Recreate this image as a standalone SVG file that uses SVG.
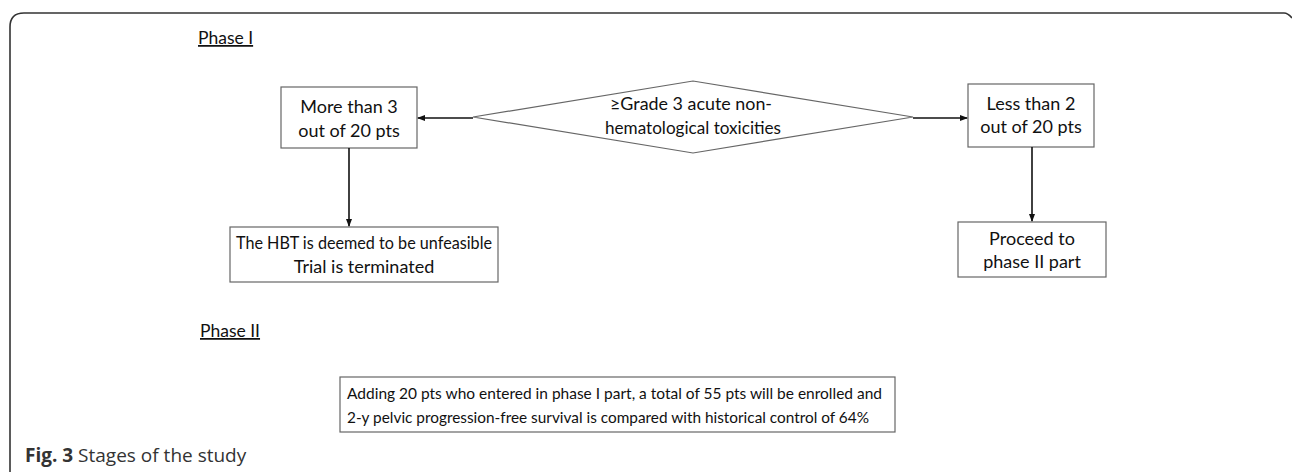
<svg xmlns="http://www.w3.org/2000/svg" width="1292" height="472" viewBox="0 0 1292 472">
<style>
.box{fill:#fff;stroke:#666;stroke-width:1.2}
.t{font-family:Lato,"Open Sans",sans-serif;font-size:18px;fill:#111;text-anchor:middle}
.h{font-family:Lato,"Open Sans",sans-serif;font-size:17.5px;fill:#111;text-decoration:underline}
.s{font-family:Lato,"Open Sans",sans-serif;font-size:16px;fill:#111}
.c{stroke:#111;stroke-width:1.6;fill:none;marker-end:url(#a)}
</style>
<defs>
<marker id="a" markerWidth="8" markerHeight="8" refX="7" refY="4" orient="auto" markerUnits="userSpaceOnUse">
<path d="M0,1 L8,4 L0,7 Z" fill="#111"/>
</marker>
</defs>
<rect width="1292" height="472" fill="#fff"/>
<path d="M10,472 V27 Q10,13 24,13 H1284 Q1288,13 1292,18" fill="none" stroke="#333" stroke-width="1.6"/>
<text class="h" x="198" y="44">Phase I</text>
<text class="h" x="200" y="337">Phase II</text>
<g id="decision">
<polygon class="box" points="473,117 693,81 913,117 693,153"/>
<text class="t" x="691" y="110" textLength="162" lengthAdjust="spacingAndGlyphs">≥Grade 3 acute non-</text>
<text class="t" x="693" y="134" textLength="176" lengthAdjust="spacingAndGlyphs">hematological toxicities</text>
</g>
<g id="more">
<rect class="box" x="281" y="87" width="136" height="61"/>
<text class="t" x="349" y="113">More than 3</text>
<text class="t" x="349" y="137">out of 20 pts</text>
</g>
<g id="less">
<rect class="box" x="968" y="84" width="126" height="63"/>
<text class="t" x="1031" y="110">Less than 2</text>
<text class="t" x="1031" y="133">out of 20 pts</text>
</g>
<g id="unfeasible">
<rect class="box" x="230" y="227" width="268" height="55"/>
<text class="t" x="364" y="249" textLength="256" lengthAdjust="spacingAndGlyphs">The HBT is deemed to be unfeasible</text>
<text class="t" x="364" y="273">Trial is terminated</text>
</g>
<g id="proceed">
<rect class="box" x="958" y="222" width="148" height="55"/>
<text class="t" x="1032" y="245">Proceed to</text>
<text class="t" x="1032" y="268">phase II part</text>
</g>
<g id="phase2">
<rect class="box" x="340" y="377" width="555" height="55"/>
<text class="s" x="347" y="399" textLength="535" lengthAdjust="spacingAndGlyphs">Adding 20 pts who entered in phase I part, a total of 55 pts will be enrolled and</text>
<text class="s" x="347" y="423" textLength="522" lengthAdjust="spacingAndGlyphs">2-y pelvic progression-free survival is compared with historical control of 64%</text>
</g>
<g id="connectors">
<line class="c" x1="473" y1="118" x2="418" y2="118"/>
<line class="c" x1="913" y1="118" x2="967" y2="118"/>
<line class="c" x1="349" y1="148" x2="349" y2="226"/>
<line class="c" x1="1032" y1="147" x2="1032" y2="221"/>
</g>
<text x="25" y="462" font-family="'Open Sans',sans-serif" font-size="19" fill="#333"><tspan font-weight="bold">Fig. 3</tspan> Stages of the study</text>
</svg>
